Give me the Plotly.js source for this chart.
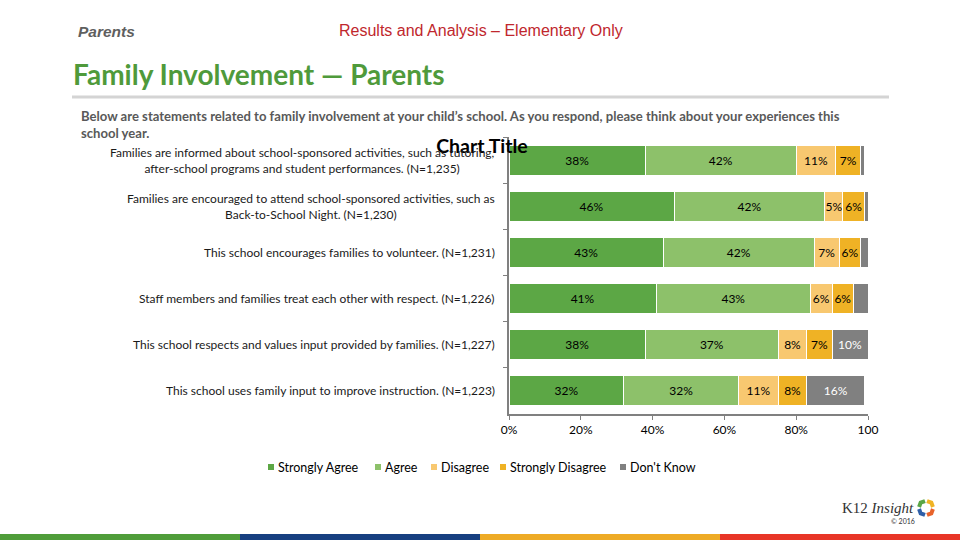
<!DOCTYPE html>
<html><head><meta charset="utf-8">
<script src="https://cdn.plot.ly/plotly-3.0.1.min.js"></script>
<style>html,body{margin:0;padding:0;background:#fff}#chart{width:960px;height:540px}</style>
</head><body><div id="chart"></div>
<script>
const categories = [
  "Families are informed about school-sponsored activities, such as tutoring,<br>after-school programs and student performances. (N=1,235)",
  "Families are encouraged to attend school-sponsored activities, such as<br>Back-to-School Night. (N=1,230)",
  "This school encourages families to volunteer. (N=1,231)",
  "Staff members and families treat each other with respect. (N=1,226)",
  "This school respects and values input provided by families. (N=1,227)",
  "This school uses family input to improve instruction. (N=1,223)"
];
const seriesNames = ["Strongly Agree", "Agree", "Disagree", "Strongly Disagree", "Don't Know"];
const stronglyAgree    = [38, 46, 43, 41, 38, 32];
const agree            = [42, 42, 42, 43, 37, 32];
const disagree         = [11, 5, 7, 6, 8, 11];
const stronglyDisagree = [7, 6, 6, 6, 7, 8];
const dontKnow         = [1, 1, 2, 4, 10, 16];
const xTickVals  = [0, 20, 40, 60, 80, 100];
const xTickText  = ["0%", "20%", "40%", "60%", "80%", "100"];

const colors = ["#5ca745", "#8dc16a", "#f8c870", "#efb225", "#808080"];
const labelColors = ["#000", "#000", "#000", "#000", "#fff"];
const allSeries = [stronglyAgree, agree, disagree, stronglyDisagree, dontKnow];
const FONT = "Lato, 'Open Sans', sans-serif";

const traces = allSeries.map((vals, i) => ({
  type: "bar", orientation: "h", name: seriesNames[i],
  y: categories, x: vals,
  text: vals.map(v => v >= 5 ? v + "%" : ""),
  textposition: "inside", insidetextanchor: "middle", textangle: 0,
  insidetextfont: {color: labelColors[i], size: 12, family: FONT},
  marker: {color: colors[i], line: {color: "#fff", width: 1}},
  hoverinfo: "none", cliponaxis: false, showlegend: false
}));

// pixel -> paper helpers
const L = 509, R = 868, T = 137, B = 414;
const px = x => (x - L) / (R - L);
const py = y => (B - y) / (B - T);

const annotations = categories.map(c => ({
  text: c, xref: "paper", yref: "y", x: px(497), y: c,
  xanchor: "right", yanchor: "middle", align: "center", showarrow: false,
  font: {family: FONT, size: 12, color: "#1a1a1a"}
}));
annotations.push(
  {text: "<i>Parents</i>", xref: "paper", yref: "paper", x: px(76), y: py(32), xanchor: "left", yanchor: "middle", showarrow: false,
   font: {family: "Arial, 'Liberation Sans', sans-serif", size: 15.5, color: "#5f5f5f", weight: 600}},
  {text: "Results and Analysis – Elementary Only", xref: "paper", yref: "paper", x: px(337), y: py(31), xanchor: "left", yanchor: "middle", showarrow: false,
   font: {family: "Arial, 'Liberation Sans', sans-serif", size: 16, color: "#c0272d"}},
  {text: "<b>Family Involvement — Parents</b>", xref: "paper", yref: "paper", x: px(71), y: py(74), xanchor: "left", yanchor: "middle", showarrow: false,
   font: {family: FONT, size: 28, color: "#4f9a3b"}},
  {text: "<b>Below are statements related to family involvement at your child’s school. As you respond, please think about your experiences this<br>school year.</b>",
   xref: "paper", yref: "paper", x: px(79), y: py(106), xanchor: "left", yanchor: "top", align: "left", showarrow: false,
   font: {family: FONT, size: 13.1, color: "#595959"}},
  {text: "K12 <i>Insight</i>", xref: "paper", yref: "paper", x: px(840), y: py(508), xanchor: "left", yanchor: "middle", showarrow: false,
   font: {family: "'Liberation Serif', 'DejaVu Serif', serif", size: 15, color: "#333"}},
  {text: "© 2016", xref: "paper", yref: "paper", x: px(903), y: py(521), xanchor: "center", yanchor: "middle", showarrow: false,
   font: {family: FONT, size: 7, color: "#333"}}
);

const shapes = [
  {type: "line", xref: "paper", yref: "paper", x0: px(72), x1: px(889), y0: py(97), y1: py(97), line: {color: "#d4d4d4", width: 3}},
  {type: "rect", xref: "paper", yref: "paper", x0: px(0), x1: px(240), y0: py(534), y1: py(541), fillcolor: "#4f9d3a", line: {width: 0}},
  {type: "rect", xref: "paper", yref: "paper", x0: px(240), x1: px(480), y0: py(534), y1: py(541), fillcolor: "#173f80", line: {width: 0}},
  {type: "rect", xref: "paper", yref: "paper", x0: px(480), x1: px(720), y0: py(534), y1: py(541), fillcolor: "#eeab26", line: {width: 0}},
  {type: "rect", xref: "paper", yref: "paper", x0: px(720), x1: px(961), y0: py(534), y1: py(541), fillcolor: "#e83527", line: {width: 0}}
];

// legend (drawn by hand to match the compact spacing of the original)
const legendX = [268, 375, 431, 500, 620];
const legendY = 467;
seriesNames.forEach((name, i) => {
  shapes.push({type: "rect", xref: "paper", yref: "paper",
    x0: px(legendX[i]), x1: px(legendX[i] + 6), y0: py(legendY - 3), y1: py(legendY + 3),
    fillcolor: colors[i], line: {width: 0}});
  annotations.push({text: name, xref: "paper", yref: "paper", x: px(legendX[i] + 8), y: py(legendY),
    xanchor: "left", yanchor: "middle", showarrow: false,
    font: {family: FONT, size: 12.5, color: "#000"}});
});

// logo ring: four arcs
const cx = 926, cy = 508, rr = 7;
const ringColors = ["#f0b323", "#e8632b", "#2f5fa8", "#5aa545"];
for (let k = 0; k < 4; k++) {
  const a0 = (-90 + k * 90 + 8) * Math.PI / 180, a1 = (-90 + (k + 1) * 90 - 8) * Math.PI / 180;
  const x0 = cx + rr * Math.cos(a0), y0 = cy + rr * Math.sin(a0);
  const x1 = cx + rr * Math.cos(a1), y1 = cy + rr * Math.sin(a1);
  shapes.push({type: "path", xref: "paper", yref: "paper",
    path: `M ${px(x0)} ${py(y0)} L ${px((x0 + x1) / 2 + (cx - (x0 + x1) / 2) * -0.35)} ${py((y0 + y1) / 2 + (cy - (y0 + y1) / 2) * -0.35)} L ${px(x1)} ${py(y1)}`,
    line: {color: ringColors[k], width: 4}});
}

const layout = {
  width: 960, height: 540,
  margin: {l: L, r: 960 - R, t: T, b: 540 - B, pad: 0},
  paper_bgcolor: "#fff", plot_bgcolor: "#fff",
  barmode: "stack", bargap: 0.35,
  title: {text: "<b>Chart Title</b>", xref: "container", yref: "container", x: 482 / 960, y: 1 - 146 / 540,
          xanchor: "center", yanchor: "middle", font: {family: FONT, size: 19.5, color: "#000"}},
  xaxis: {range: [0, 100], tickvals: xTickVals, ticktext: xTickText, showgrid: false, zeroline: false,
          showline: true, linecolor: "#808080", linewidth: 2, ticks: "outside", ticklen: 4, tickcolor: "#808080",
          tickfont: {family: FONT, size: 12, color: "#000"}, fixedrange: true},
  yaxis: {autorange: "reversed", showticklabels: false, showgrid: false, zeroline: false,
          showline: true, linecolor: "#808080", linewidth: 2, ticks: "outside", ticklen: 4, tickcolor: "#808080",
          tickson: "boundaries", fixedrange: true},
  showlegend: false,
  uniformtext: {mode: "show", minsize: 12},
  annotations: annotations, shapes: shapes
};
Plotly.newPlot("chart", traces, layout, {displayModeBar: false, staticPlot: true});
</script></body></html>
